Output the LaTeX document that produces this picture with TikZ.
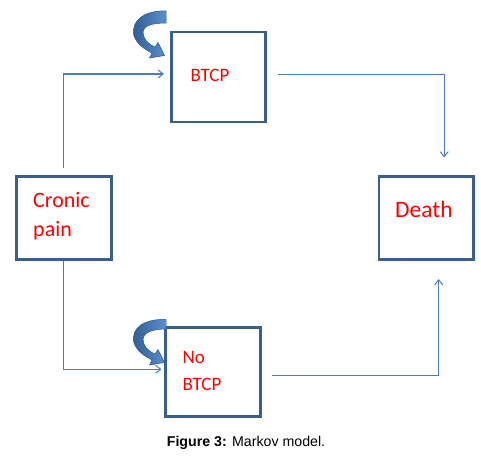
\documentclass[tikz,border=0pt]{standalone}
\usepackage{fontspec}
\setmainfont{Liberation Sans}
\newfontfamily\labfont{Carlito}
\usetikzlibrary{arrows.meta}
\definecolor{boxline}{HTML}{3A5F8E}
\definecolor{connline}{HTML}{4A7EBB}
\definecolor{labred}{HTML}{FF0000}
\definecolor{loopdark}{HTML}{2E5A90}
\definecolor{looplight}{HTML}{5A8FCF}
\begin{document}
\begin{tikzpicture}[x=1pt,y=-1pt,
  statebox/.style={draw=boxline,line width=2.7pt,rectangle,inner sep=0pt,fill=white},
  conn/.style={draw=connline,line width=1.1pt,-{Straight Barb[length=5pt,width=8pt,line width=1pt]}},
  lab/.style={anchor=base west,inner sep=0pt,text=labred},
  loopshape/.style={draw=loopdark,line width=0.5pt,left color=loopdark,right color=looplight}
]
\useasboundingbox (0,0) rectangle (481,458);
\fill[white] (0,0) rectangle (481,458);

% boxes
\node[statebox,minimum width=94pt,minimum height=90pt] (btcp) at (218.3,77) {};
\node[statebox,minimum width=95pt,minimum height=89.4pt] (nobtcp) at (212.8,372) {};
\node[statebox,minimum width=95pt,minimum height=83.4pt] (cronic) at (63.8,218) {};
\node[statebox,minimum width=94.3pt,minimum height=83.4pt] (death) at (426.2,218) {};

% labels
\node[lab,font=\labfont\fontsize{19}{23}\selectfont] (tbtcp) at (190.5,81) {BTCP};
\node[lab,font=\labfont\fontsize{19}{23}\selectfont] (tno) at (182.5,363) {No};
\node[lab,font=\labfont\fontsize{19}{23}\selectfont] (tnob) at (182.5,390) {BTCP};
\node[lab,font=\labfont\fontsize{22}{26}\selectfont] (tcro) at (33,207) {Cronic};
\node[lab,font=\labfont\fontsize{22}{26}\selectfont] (tpain) at (33,236) {pain};
\node[lab,font=\labfont\fontsize{23.5}{28}\selectfont] (tdeath) at (395,217.7) {Death};

% connectors
\draw[conn,shorten <=7pt,shorten >=6pt] (cronic.north) |- ([yshift=3pt]btcp.west);
\draw[conn,shorten <=11.5pt,shorten >=17.5pt] ([yshift=2.7pt]btcp.east) -| ([xshift=18pt]death.north);
\draw[conn,shorten >=2.5pt] (cronic.south) |- ([yshift=2.7pt]nobtcp.west);
\draw[conn,shorten <=10pt,shorten >=18pt] ([yshift=-3.3pt]nobtcp.east) -| ([xshift=12.5pt]death.south);

% self loops
\path[loopshape] (166,11) .. controls (146,10) and (130,20) .. (134,36)
  .. controls (137,44) and (144,49) .. (152,53) -- (149.5,58) -- (164.5,55.5)
  -- (158,42.5) -- (155,47) .. controls (148,44) and (143,39) .. (143,32)
  .. controls (143,26) and (152,23) .. (166,23) -- cycle;
\begin{scope}[shift={(0,307)}]
\path[loopshape] (166,12.5) .. controls (146,11.5) and (130,20) .. (134,36)
  .. controls (137,44) and (144,49) .. (152,53) -- (149.5,58) -- (164.5,55.5)
  -- (158,42.5) -- (155,47) .. controls (148,44) and (143,39) .. (143,32)
  .. controls (143,26) and (152,22) .. (166,22) -- cycle;
\end{scope}

% caption
\node[anchor=base,inner sep=0pt,font=\fontsize{14.2}{17}\selectfont] (cap) at (246,446.7) {\textbf{Figure 3:} Markov model.};
\end{tikzpicture}
\end{document}
